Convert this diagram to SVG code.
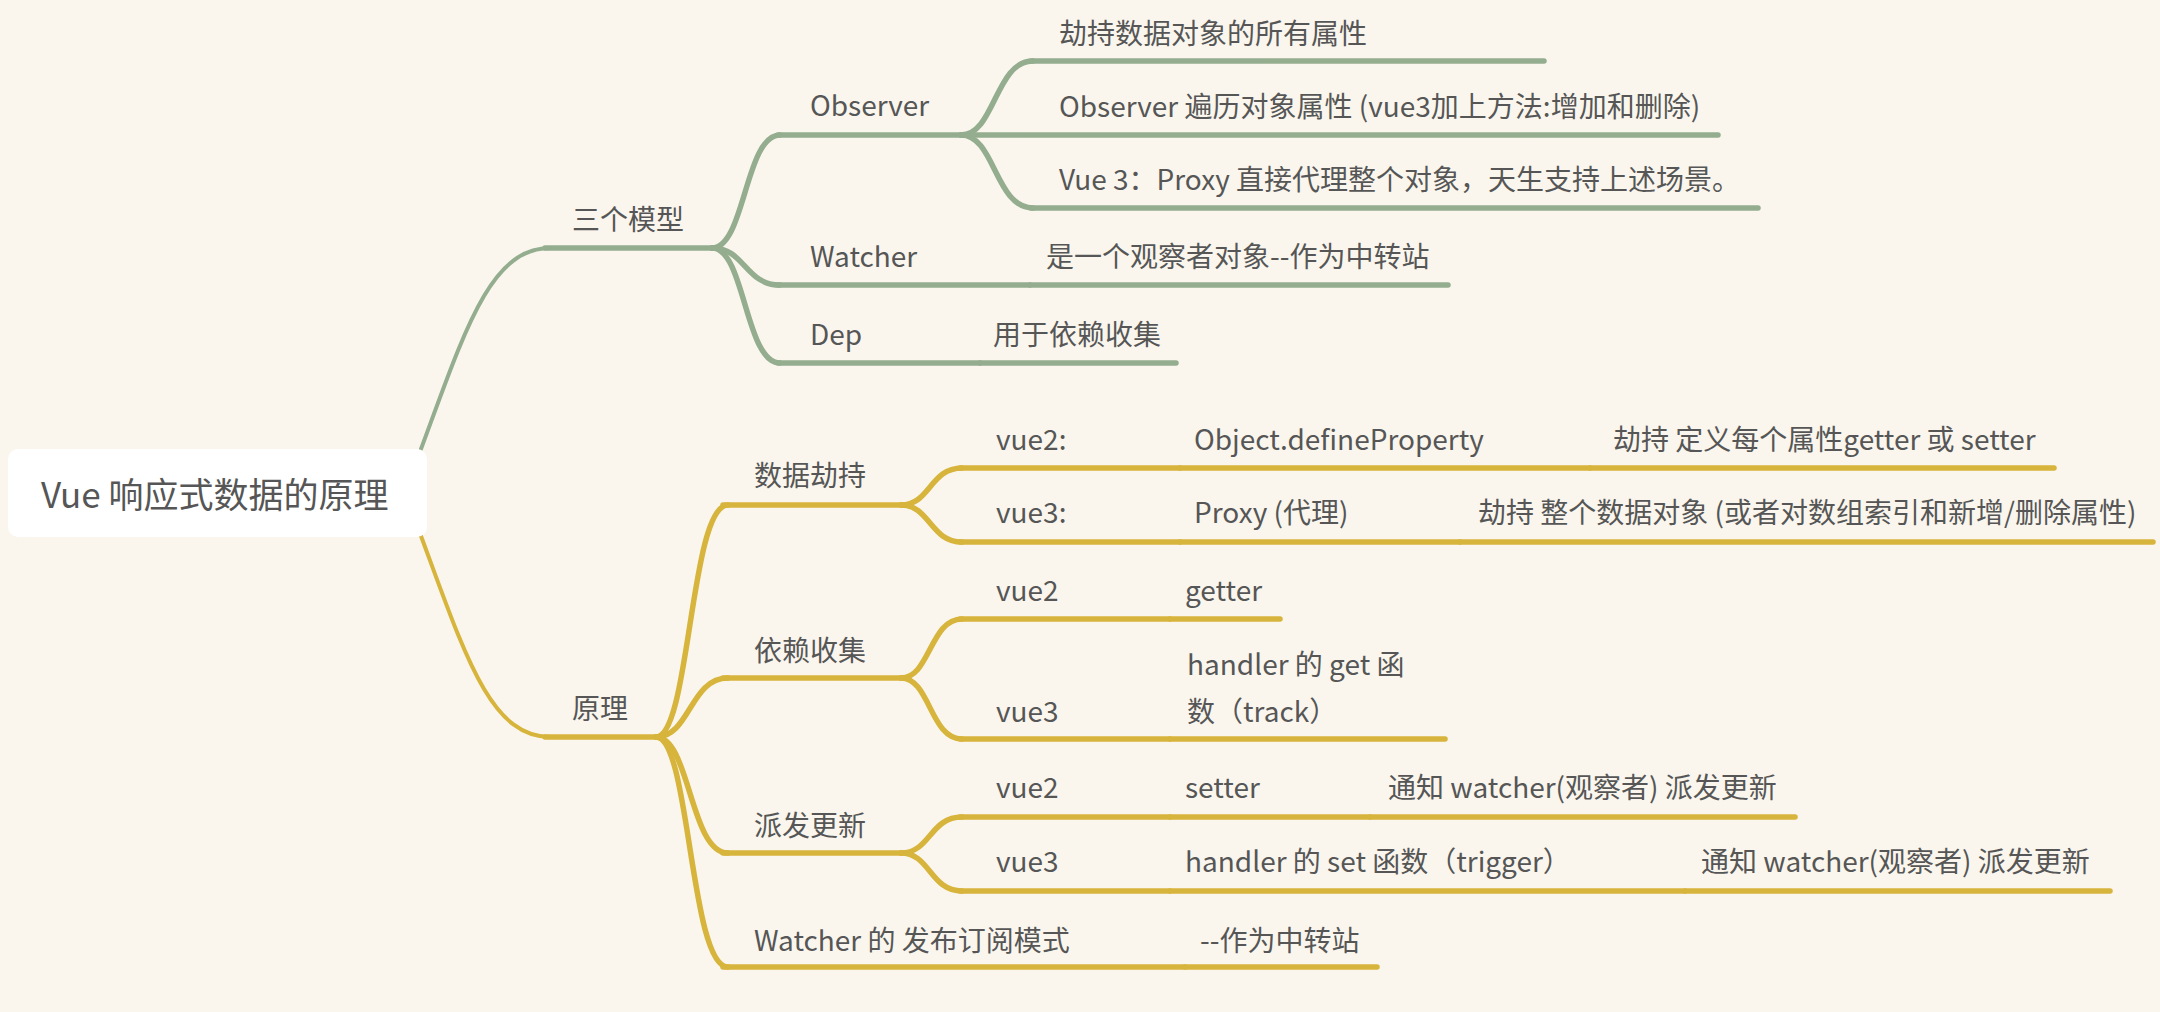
<svg xmlns="http://www.w3.org/2000/svg" width="2160" height="1012" viewBox="0 0 2160 1012">
<style>
text{font-family:"Noto Sans CJK SC","Noto Sans",sans-serif;fill:#565656;font-size:28px}
.root{font-size:35px}
.g{stroke:#94ad8e;fill:none;stroke-width:5.5;stroke-linecap:round}
.y{stroke:#d7b43b;fill:none;stroke-width:5.5;stroke-linecap:round}
.thin{stroke-width:4}
</style>
<rect width="2160" height="1012" fill="#faf6ee"/>
<g id="connectors">
<path class="g thin" d="M421,449 C465,330 490,248 550,248"/>
<path class="g" d="M712,248 C745,248 745,135 780,135"/>
<path class="g" d="M712,248 C745,248 745,285 780,285"/>
<path class="g" d="M712,248 C745,248 745,363 780,363"/>
<path class="g" d="M961,135 C995,135 995,61 1033,61"/>
<path class="g" d="M961,135 C995,135 995,208 1033,208"/>
<path class="y thin" d="M421,536 C465,655 490,737 550,737"/>
<path class="y" d="M656,737 C690,737 690,505 728,505"/>
<path class="y" d="M656,737 C690,737 690,678 728,678"/>
<path class="y" d="M656,737 C690,737 690,853 728,853"/>
<path class="y" d="M656,737 C690,737 690,967 728,967"/>
<path class="y" d="M901,505 C930,505 930,468 962,468"/>
<path class="y" d="M901,505 C930,505 930,542 962,542"/>
<path class="y" d="M901,678 C930,678 930,619 962,619"/>
<path class="y" d="M901,678 C930,678 930,739 962,739"/>
<path class="y" d="M901,853 C930,853 930,817 962,817"/>
<path class="y" d="M901,853 C930,853 930,891 962,891"/>
</g>
<g id="root">
<rect x="8" y="449" width="419" height="88" rx="10" fill="#ffffff"/>
<text class="root" x="41" y="508">Vue 响应式数据的原理</text>
</g>
<g id="n-sangemoxing"><path class="g" d="M545,248H712"/><text x="572" y="230">三个模型</text></g>
<g id="n-observer"><path class="g" d="M778,135H961"/><text x="810" y="116">Observer</text></g>
<g id="n-obs-1"><path class="g" d="M1031,61H1544"/><text x="1059" y="44">劫持数据对象的所有属性</text></g>
<g id="n-obs-2"><path class="g" d="M961,135H1718"/><text x="1059" y="117">Observer 遍历对象属性 (vue3加上方法:增加和删除)</text></g>
<g id="n-obs-3"><path class="g" d="M1031,208H1758"/><text x="1059" y="190">Vue 3：Proxy 直接代理整个对象，天生支持上述场景。</text></g>
<g id="n-watcher"><path class="g" d="M778,285H1030"/><text x="810" y="267">Watcher</text></g>
<g id="n-watcher-1"><path class="g" d="M1030,285H1448"/><text x="1046" y="267">是一个观察者对象--作为中转站</text></g>
<g id="n-dep"><path class="g" d="M778,363H980"/><text x="810" y="345">Dep</text></g>
<g id="n-dep-1"><path class="g" d="M980,363H1176"/><text x="993" y="345">用于依赖收集</text></g>

<g id="n-yuanli"><path class="y" d="M545,737H656"/><text x="572" y="719">原理</text></g>
<g id="n-shujujiechi"><path class="y" d="M723,505H901"/><text x="754" y="486">数据劫持</text></g>
<g id="n-yilaishouji"><path class="y" d="M723,678H901"/><text x="754" y="661">依赖收集</text></g>
<g id="n-paifagengxin"><path class="y" d="M723,853H901"/><text x="754" y="836">派发更新</text></g>
<g id="n-watcher-pub"><path class="y" d="M723,967H1185"/><text x="754" y="951">Watcher 的 发布订阅模式</text></g>
<g id="n-watcher-pub-1"><path class="y" d="M1185,967H1377"/><text x="1200" y="951">--作为中转站</text></g>

<g id="n-sj-vue2"><path class="y" d="M960,468H1180"/><text x="996" y="450">vue2:</text></g>
<g id="n-sj-vue2-a"><path class="y" d="M1180,468H1590"/><text x="1194" y="450">Object.defineProperty</text></g>
<g id="n-sj-vue2-b"><path class="y" d="M1590,468H2054"/><text x="1613" y="450">劫持 定义每个属性getter 或 setter</text></g>
<g id="n-sj-vue3"><path class="y" d="M960,542H1180"/><text x="996" y="523">vue3:</text></g>
<g id="n-sj-vue3-a"><path class="y" d="M1180,542H1460"/><text x="1194" y="523">Proxy (代理)</text></g>
<g id="n-sj-vue3-b"><path class="y" d="M1460,542H2153"/><text x="1478" y="523">劫持 整个数据对象 (或者对数组索引和新增/删除属性)</text></g>

<g id="n-yl-vue2"><path class="y" d="M960,619H1170"/><text x="996" y="601">vue2</text></g>
<g id="n-yl-vue2-a"><path class="y" d="M1170,619H1280"/><text x="1185" y="601">getter</text></g>
<g id="n-yl-vue3"><path class="y" d="M960,739H1170"/><text x="996" y="722">vue3</text></g>
<g id="n-yl-vue3-a"><path class="y" d="M1170,739H1445"/><text x="1187" y="675">handler 的 get 函</text><text x="1187" y="722">数（track）</text></g>

<g id="n-pf-vue2"><path class="y" d="M960,817H1170"/><text x="996" y="798">vue2</text></g>
<g id="n-pf-vue2-a"><path class="y" d="M1170,817H1370"/><text x="1185" y="798">setter</text></g>
<g id="n-pf-vue2-b"><path class="y" d="M1370,817H1795"/><text x="1388" y="798">通知 watcher(观察者) 派发更新</text></g>
<g id="n-pf-vue3"><path class="y" d="M960,891H1170"/><text x="996" y="872">vue3</text></g>
<g id="n-pf-vue3-a"><path class="y" d="M1170,891H1685"/><text x="1185" y="872">handler 的 set 函数（trigger）</text></g>
<g id="n-pf-vue3-b"><path class="y" d="M1685,891H2110"/><text x="1701" y="872">通知 watcher(观察者) 派发更新</text></g>
</svg>
